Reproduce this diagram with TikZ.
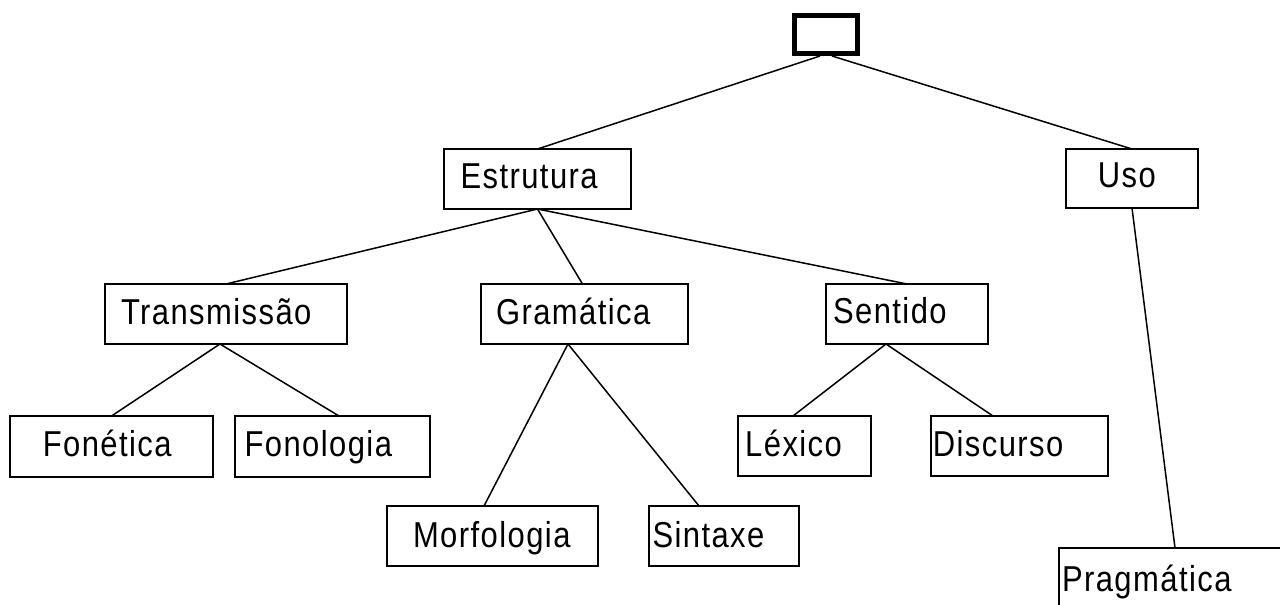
\documentclass[tikz,border=0pt]{standalone}
\usepackage{fontspec}
\setmainfont{Liberation Sans}[FakeStretch=0.86,LetterSpace=4]
\begin{document}
\begin{tikzpicture}[x=1pt,y=-1pt,
  box/.style={draw=black,line width=1.5pt,rectangle,inner sep=0pt,outer sep=0pt,minimum height=60pt},
  topbox/.style={draw=black,line width=5pt,rectangle,inner sep=0pt,outer sep=0pt,minimum width=63pt,minimum height=38pt},
  lbl/.style={anchor=base west,inner sep=0pt,outer sep=0pt,font=\fontsize{36}{42}\selectfont},
  edge/.style={draw=black,line width=1.5pt}]
\useasboundingbox (0,0) rectangle (1280,605);
% boxes
\node[topbox] (root) at (826,34.5) {};
\node[box,minimum width=187pt] (estr) at (537.5,179) {};
\node[box,minimum width=132pt,minimum height=59pt] (uso) at (1132,178.5) {};
\node[box,minimum width=242pt] (trans) at (226,314) {};
\node[box,minimum width=207pt] (gram) at (584.5,314) {};
\node[box,minimum width=162pt] (sent) at (907,314) {};
\node[box,minimum width=203pt,minimum height=61pt] (fonet) at (111.5,446.5) {};
\node[box,minimum width=195pt,minimum height=61pt] (fonol) at (332.5,446.5) {};
\node[box,minimum width=133pt] (lex) at (804.5,446) {};
\node[box,minimum width=177pt] (disc) at (1019.5,446) {};
\node[box,minimum width=211pt] (morf) at (492.5,536) {};
\node[box,minimum width=150pt] (sint) at (724,536) {};
\node[box,minimum width=300pt,minimum height=100pt,anchor=north west] (prag) at (1059,548) {};
% labels
\node[lbl] (tEstr) at (460.5,188) {Estrutura};
\node[lbl] (tUso) at (1097.8,187) {Uso};
\node[lbl] (tTrans) at (121,324) {Transmissão};
\node[lbl] (tGram) at (496,324) {Gramática};
\node[lbl] (tSent) at (833,323.5) {Sentido};
\node[lbl] (tFonet) at (42.8,456) {Fonética};
\node[lbl] (tFonol) at (244.5,456) {Fonologia};
\node[lbl] (tMorf) at (413,547) {Morfologia};
\node[lbl] (tSint) at (652.5,547) {Sintaxe};
\node[lbl] (tLex) at (745.2,456) {Léxico};
\node[lbl] (tDisc) at (932.8,456) {Discurso};
\node[lbl] (tPrag) at (1062,591.7) {Pragmática};
% connectors
\draw[edge] ([xshift=-6pt,yshift=-2.5pt]root.south) -- (estr.north);
\draw[edge] ([xshift=6pt,yshift=-2.5pt]root.south) -- (uso.north);
\draw[edge] (estr.south) -- (trans.north);
\draw[edge] (estr.south) -- ([xshift=-2pt]gram.north);
\draw[edge] (estr.south) -- (sent.north);
\draw[edge] ([xshift=-6pt]trans.south) -- (fonet.north);
\draw[edge] ([xshift=-6pt]trans.south) -- ([xshift=6.5pt]fonol.north);
\draw[edge] ([xshift=-16.5pt]gram.south) -- ([xshift=-8.5pt]morf.north);
\draw[edge] ([xshift=-16.5pt]gram.south) -- ([xshift=-25pt]sint.north);
\draw[edge] ([xshift=-21pt]sent.south) -- ([xshift=-11.5pt]lex.north);
\draw[edge] ([xshift=-21pt]sent.south) -- ([xshift=-26.5pt]disc.north);
\draw[edge] (uso.south) -- ([xshift=116pt]prag.north west);
\end{tikzpicture}
\end{document}
